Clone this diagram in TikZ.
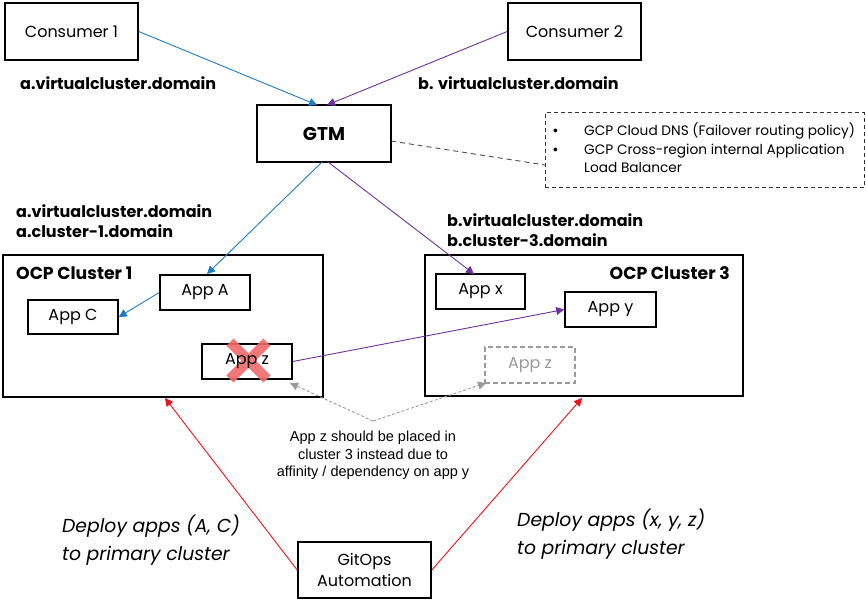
\documentclass[tikz,border=0pt]{standalone}
\usepackage{fontspec}
\setmainfont{Poppins}
\newfontfamily\notefont{Liberation Sans}
\usetikzlibrary{arrows.meta}
\definecolor{linkblue}{HTML}{1F7BC4}
\definecolor{linkpurple}{HTML}{7030A0}
\definecolor{deployred}{HTML}{E8141B}
\definecolor{crossred}{HTML}{F06A6A}
\definecolor{ghostgray}{HTML}{9A9A9A}
\tikzset{
  box/.style={draw=black, line width=1.6pt, fill=white, inner sep=0pt, font=\fontsize{16}{19}\selectfont},
  cluster/.style={draw=black, line width=1.6pt, inner sep=0pt},
  dnslabel/.style={font=\bfseries\fontsize{16}{20}\selectfont, align=left, inner sep=0pt, anchor=west},
  clustertitle/.style={inner sep=0pt, font=\bfseries\fontsize{17.3}{20}\selectfont},
  tip/.style={-{Triangle[length=8pt,width=8pt]}},
  bluelink/.style={tip, draw=linkblue, line width=0.9pt},
  purplelink/.style={tip, draw=linkpurple, line width=0.9pt},
  redlink/.style={tip, draw=deployred, line width=0.9pt},
  graylink/.style={tip, draw=ghostgray, line width=0.9pt, dash pattern=on 3pt off 2pt},
  deploytext/.style={font=\itshape\fontsize{18.8}{28}\selectfont, align=left, inner sep=0pt, anchor=north west},
}
\begin{document}
\begin{tikzpicture}[x=1pt, y=-1pt]
\useasboundingbox (0,0) rectangle (866,600);

% consumers and global traffic manager
\node[box, minimum width=133pt, minimum height=57pt] (c1) at (71.5,31.5) {Consumer 1};
\node[box, minimum width=133pt, minimum height=57pt] (c2) at (574.5,31.5) {Consumer 2};
\node[box, minimum width=134pt, minimum height=57pt, font=\bfseries\fontsize{18.5}{20}\selectfont] (gtm) at (324,133.5) {GTM};

\node[dnslabel] (dA) at (20,83) {a.virtualcluster.domain};
\node[dnslabel] (dB) at (418,83) {b. virtualcluster.domain};

% implementation note
\node[draw=black!80, line width=0.9pt, dash pattern=on 4pt off 3pt, minimum width=319pt, minimum height=75pt, inner sep=0pt] (note) at (704.5,150) {};
\node[anchor=north west, inner sep=0pt, font=\fontsize{13.7}{18}\selectfont, align=left] (notetext) at (553,123) {%
  \makebox[31pt][l]{\notefont\textbullet}GCP Cloud DNS (Failover routing policy)\\
  \makebox[31pt][l]{\notefont\textbullet}GCP Cross-region internal Application\\
  \hspace*{31pt}Load Balancer};
\coordinate (gtmR) at (391,141);
\coordinate (noteL) at (545,165);
\draw[black!70, line width=0.9pt, dash pattern=on 5pt off 4pt] (gtmR) -- (noteL);

% cluster-specific domains
\node[dnslabel] (d1) at (16,221) {a.virtualcluster.domain\\a.cluster-1.domain};
\node[dnslabel] (d3) at (447,230) {b.virtualcluster.domain\\b.cluster-3.domain};

% OCP cluster 1
\node[cluster, minimum width=320pt, minimum height=142pt] (oc1) at (163,326) {};
\node[clustertitle, anchor=west] (oc1t) at (16,273) {OCP Cluster 1};
\node[box, minimum width=90pt, minimum height=35pt] (appA) at (205,292.5) {App A};
\node[box, minimum width=90pt, minimum height=34pt] (appC) at (73,317) {App C};
\node[box, minimum width=90pt, minimum height=35pt] (appZ) at (247,361.5) {\phantom{App z}};
% crossed-out marker
\draw[crossred, line width=10pt, opacity=0.9] (230,342) -- (267,379) (267,342) -- (230,379);
\node[inner sep=0pt, font=\fontsize{16}{19}\selectfont] (appZt) at (247,361.5) {App z};

% OCP cluster 3
\node[cluster, minimum width=318pt, minimum height=141pt] (oc3) at (584,325.5) {};
\node[clustertitle, anchor=east] (oc3t) at (730,273) {OCP Cluster 3};
\node[box, minimum width=89pt, minimum height=35pt] (appX) at (480.5,291.5) {App x};
\node[box, minimum width=91pt, minimum height=35pt] (appY) at (610.5,309.5) {App y};
\node[draw=ghostgray, line width=1.6pt, dash pattern=on 5pt off 3pt, minimum width=90pt, minimum height=36pt, inner sep=0pt, text=ghostgray, font=\fontsize{16}{19}\selectfont] (appZg) at (530,365) {App z};

% GitOps
\node[box, minimum width=133pt, minimum height=56pt, align=center, font=\fontsize{16}{21}\selectfont] (git) at (364.5,570) {GitOps\\Automation};

% placement remark
\node[inner sep=0pt, align=center, font=\notefont\fontsize{14.5}{17.5}\selectfont] (remark) at (373,455.5) {App z should be placed in\\cluster 3 instead due to\\affinity / dependency on app y};
\coordinate (fork) at (373,421);
\draw[graylink] (fork) -- (290,383);
\draw[graylink] (fork) -- (486,383);

% deployment labels
\node[deploytext] (dep1) at (62,515) {Deploy apps (A, C)\\to primary cluster};
\node[deploytext] (dep3) at (517,509) {Deploy apps (x, y, z)\\to primary cluster};

% traffic routing
\draw[bluelink] (c1.east) -- (317,105);
\draw[purplelink] (c2.west) -- (327,105);
\draw[bluelink] (322,162) -- (207,274);
\draw[purplelink] (328,162) -- (474,274);
\draw[bluelink] (appA.west) -- (appC.east);
\draw[purplelink] (appZ.east) -- (appY.west);

% deployment
\draw[redlink] (git.west) -- (165,398);
\draw[redlink] (git.east) -- (582,398);
\end{tikzpicture}
\end{document}
